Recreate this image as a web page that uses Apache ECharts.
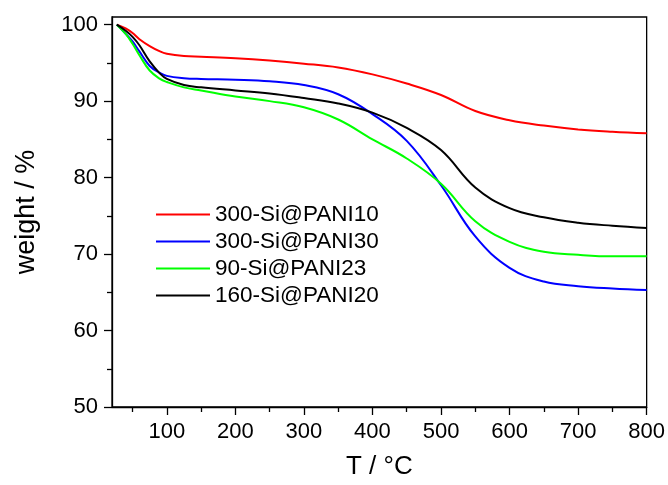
<!DOCTYPE html>
<html>
<head>
<meta charset="utf-8">
<script src="https://cdn.jsdelivr.net/npm/echarts@6/dist/echarts.min.js"></script>
<style>
html, body { margin: 0; padding: 0; background: #fff; }
#tga { width: 668px; height: 485px; }
</style>
</head>
<body>
<div id="tga"></div>
<script>
// temperature points (°C)
var temps = [27, 40, 50, 60, 75, 90, 100, 125, 150, 200, 250, 300, 350, 400, 450, 500, 550, 600, 650, 700, 750, 800];
// weight %
var si10 = [100, 99.5, 98.9, 98.1, 97.2, 96.5, 96.2, 95.9, 95.8, 95.6, 95.3, 94.9, 94.4, 93.5, 92.3, 90.8, 88.7, 87.5, 86.8, 86.3, 86.0, 85.8];
var si30 = [100, 98.8, 97.8, 96.5, 94.6, 93.7, 93.3, 93.0, 92.9, 92.8, 92.6, 92.1, 90.9, 88.3, 84.8, 79.0, 72.3, 68.2, 66.4, 65.8, 65.5, 65.3];
var si23 = [100, 98.8, 97.5, 96.0, 94.0, 92.9, 92.5, 91.8, 91.4, 90.6, 90.0, 89.2, 87.6, 85.0, 82.5, 79.2, 74.3, 71.6, 70.3, 69.9, 69.7, 69.7];
var si20 = [100, 99.2, 98.4, 97.3, 95.2, 93.6, 92.9, 92.1, 91.8, 91.4, 91.0, 90.4, 89.7, 88.5, 86.5, 83.6, 78.7, 76.0, 74.8, 74.1, 73.7, 73.4];
var seriesNames = ['300-Si@PANI10', '300-Si@PANI30', '90-Si@PANI23', '160-Si@PANI20'];
var seriesColors = ['#ff0000', '#0000ff', '#00ff00', '#000000'];
// tick labels
var xTicks = [100, 200, 300, 400, 500, 600, 700, 800];
var xMinor = [50, 150, 250, 350, 450, 550, 650, 750];
var yTicks = [50, 60, 70, 80, 90, 100];
var yMinor = [55, 65, 75, 85, 95];

var font = 'Liberation Sans';

function pairs(ys) {
	return temps.map(function (t, i) { return [t, ys[i]]; });
}

var tgachart = echarts.init(document.getElementById('tga'));
var allData = [si10, si30, si23, si20];
var series = allData.map(function (d, i) {
	return {
		name: seriesNames[i],
		type: 'line',
		data: pairs(d),
		smooth: 0.4,
		showSymbol: false,
		symbol: 'none',
		lineStyle: { color: seriesColors[i], width: 2 },
		itemStyle: { color: seriesColors[i] },
		xAxisIndex: 0,
		yAxisIndex: 0
	};
});

var option = {
	animation: false,
	textStyle: { fontFamily: font },
	grid: {
		left: 112,
		right: 20,
		top: 17,
		bottom: 76,
		show: true,
		borderColor: '#000',
		borderWidth: 1.3
	},
	legend: {
		orient: 'vertical',
		left: 156,
		top: 203,
		padding: 0,
		icon: 'rect',
		itemWidth: 54,
		itemHeight: 2,
		itemGap: 4,
		data: seriesNames,
		textStyle: { fontFamily: font, fontSize: 22.5, color: '#000' }
	},
	xAxis: [{
		type: 'value',
		min: 20,
		max: 800,
		position: 'bottom',
		name: 'T / °C',
		nameLocation: 'middle',
		nameGap: 47,
		nameTextStyle: { fontFamily: font, fontSize: 26, color: '#000' },
		splitLine: { show: false },
		axisLine: { lineStyle: { color: '#000', width: 1.3 } },
		axisTick: { customValues: xTicks, length: 8, lineStyle: { color: '#000', width: 1.3 } },
		axisLabel: { customValues: xTicks, fontFamily: font, fontSize: 22, color: '#000', margin: 14 }
	}, {
		type: 'value',
		min: 20,
		max: 800,
		position: 'bottom',
		offset: 0,
		splitLine: { show: false },
		axisLine: { show: false },
		axisTick: { customValues: xMinor, length: 5, lineStyle: { color: '#000', width: 1.3 } },
		axisLabel: { show: false }
	}],
	yAxis: [{
		type: 'value',
		min: 50,
		max: 101,
		position: 'left',
		name: 'weight / %',
		nameLocation: 'middle',
		nameGap: 72,
		nameTextStyle: { fontFamily: font, fontSize: 27, color: '#000' },
		splitLine: { show: false },
		axisLine: { lineStyle: { color: '#000', width: 1.3 } },
		axisTick: { customValues: yTicks, length: 8, lineStyle: { color: '#000', width: 1.3 } },
		axisLabel: { customValues: yTicks, fontFamily: font, fontSize: 22, color: '#000', margin: 14 }
	}, {
		type: 'value',
		min: 50,
		max: 101,
		position: 'left',
		offset: 0,
		splitLine: { show: false },
		axisLine: { show: false },
		axisTick: { customValues: yMinor, length: 5, lineStyle: { color: '#000', width: 1.3 } },
		axisLabel: { show: false }
	}],
	series: series
};
tgachart.setOption(option);
</script>
</body>
</html>
